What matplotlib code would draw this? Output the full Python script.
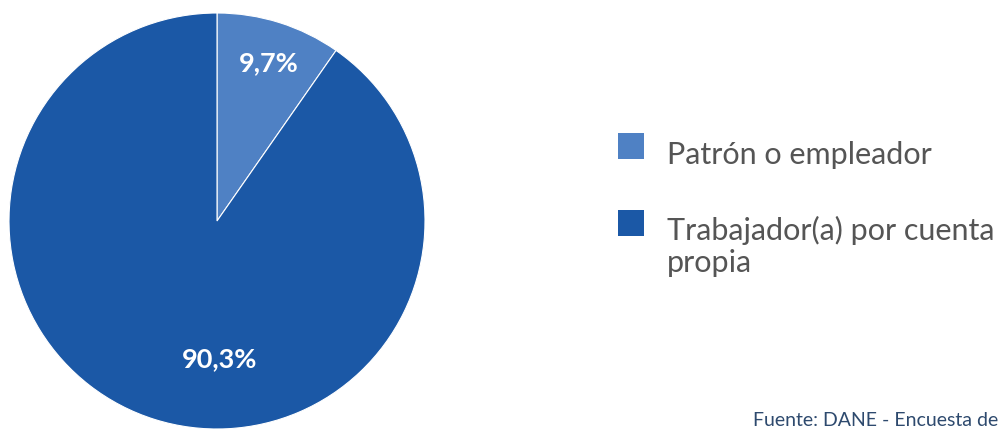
import matplotlib
matplotlib.use("Agg")
import matplotlib.pyplot as plt
from matplotlib.patches import Rectangle

categories = ["Patrón o empleador", "Trabajador(a) por cuenta\npropia"]
values = [9.7, 90.3]
labels = ["9,7%", "90,3%"]
colors = ["#4F81C4", "#1B58A6"]
source = "Fuente: DANE - Encuesta de"

W, H = 1002, 431
fig = plt.figure(figsize=(W / 100, H / 100), dpi=100)
font = "Lato"

cx, cy, r = 217, 222, 208
ax = fig.add_axes([(cx - r) / W, (H - cy - r) / H, 2 * r / W, 2 * r / H])
wedges, _ = ax.pie(values, colors=colors, startangle=90, counterclock=False,
                   radius=1, wedgeprops=dict(edgecolor="white", linewidth=0.8))
ax.set_xlim(-1, 1)
ax.set_ylim(-1, 1)
ax.set_aspect("equal")
ax.axis("off")

# value labels
label_pos = [((269 - cx) / r, (cy - 63) / r), ((220 - cx) / r, (cy - 359) / r)]
for (x, y), lab in zip(label_pos, labels):
    ax.text(x, y, lab, color="white", fontsize=19.5, fontweight="bold",
            family=font, ha="center", va="center")

# legend
sq = 26
sq_tops = [134, 211]
baselines = [[164], [240, 272]]
for top, col, cat, bls in zip(sq_tops, colors, categories, baselines):
    fig.patches.append(Rectangle((618 / W, (H - top - sq) / H), sq / W, sq / H,
                                 transform=fig.transFigure, facecolor=col,
                                 edgecolor="none"))
    for line, bl in zip(cat.split("\n"), bls):
        fig.text(667 / W, (H - bl) / H, line, color="#555555", fontsize=22,
                 family=font, ha="left", va="baseline")

fig.text(753 / W, 5 / H, source, color="#2E4A6E", fontsize=14,
         family=font, ha="left", va="baseline")

fig.savefig("out.png", dpi=100)
